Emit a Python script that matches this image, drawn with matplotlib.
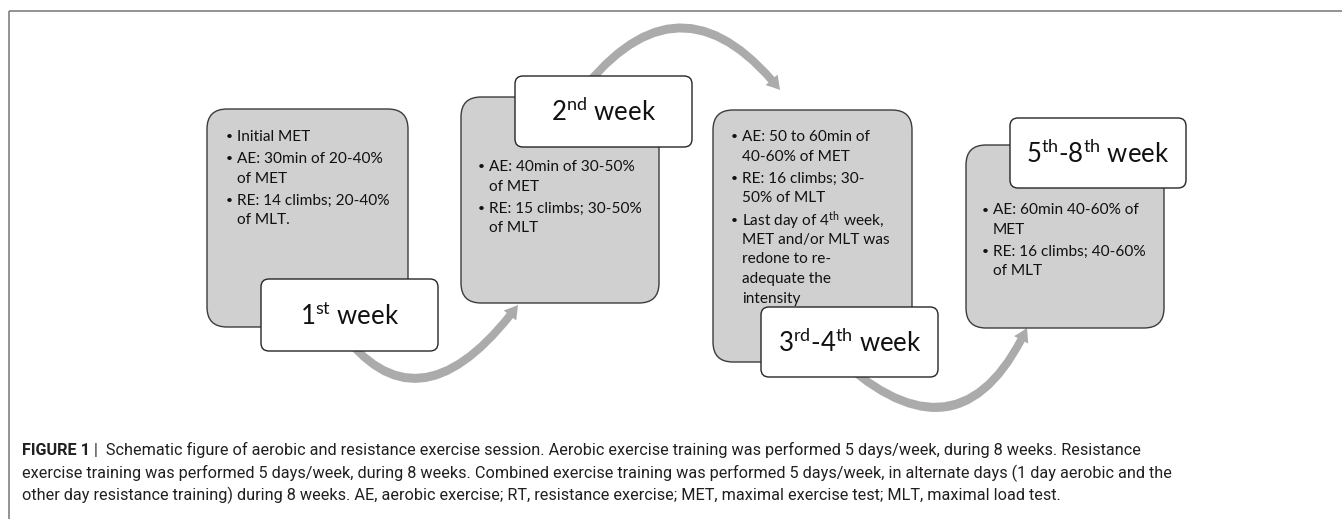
import matplotlib
matplotlib.use("Agg")
import matplotlib.pyplot as plt
from matplotlib.patches import FancyBboxPatch, FancyArrowPatch, ArrowStyle
from matplotlib.path import Path
from matplotlib import font_manager

# ---------------- content ----------------
week_labels = [
    r"$\mathrm{1}^{\mathrm{st}}$ week",
    r"$\mathrm{2}^{\mathrm{nd}}$ week",
    r"$\mathrm{3}^{\mathrm{rd}}$-$\mathrm{4}^{\mathrm{th}}$ week",
    r"$\mathrm{5}^{\mathrm{th}}$-$\mathrm{8}^{\mathrm{th}}$ week",
]
items_week1 = [["Initial MET"], ["AE: 30min of 20-40%", "of MET"], ["RE: 14 climbs; 20-40%", "of MLT."]]
items_week2 = [["AE: 40min of 30-50%", "of MET"], ["RE: 15 climbs; 30-50%", "of MLT"]]
items_week34 = [["AE: 50 to 60min of", "40-60% of MET"], ["RE: 16 climbs; 30-", "50% of MLT"],
                [r"Last day of $\mathrm{4}^{\mathrm{th}}$ week,", "MET and/or MLT was", "redone to re-",
                 "adequate the", "intensity"]]
items_week58 = [["AE: 60min 40-60% of", "MET"], ["RE: 16 climbs; 40-60%", "of MLT"]]
box_items = [items_week1, items_week2, items_week34, items_week58]

caption_bold = "FIGURE 1"
caption_lines = [
    " |  Schematic figure of aerobic and resistance exercise session. Aerobic exercise training was performed 5 days/week, during 8 weeks. Resistance",
    "exercise training was performed 5 days/week, during 8 weeks. Combined exercise training was performed 5 days/week, in alternate days (1 day aerobic and the",
    "other day resistance training) during 8 weeks. AE, aerobic exercise; RT, resistance exercise; MET, maximal exercise test; MLT, maximal load test.",
]

# ---------------- layout (pixels) ----------------
W, H = 1342, 519
gray_boxes = [(207, 109, 408, 327), (461, 97, 659, 303), (713, 110, 912, 362), (966, 145, 1164, 328)]
label_boxes = [(261, 279, 438, 351), (515, 76, 692, 147), (761, 307, 938, 377), (1010, 118, 1186, 188)]
text_x = [237, 489, 742, 993]
text_y0 = [137, 167, 137, 210]
line_step, item_gap = 19.6, 2.4
arrows = [((340, 330), (419, 438), (518, 305)),
          ((575, 100), (677, -39), (780, 90)),
          ((830, 350), (958, 475), (1027, 328))]

names = {f.name for f in font_manager.fontManager.ttflist}
box_font = "Lato" if "Lato" in names else "DejaVu Sans"
cap_font = "Liberation Sans Narrow" if "Liberation Sans Narrow" in names else "Roboto"

plt.rcParams["mathtext.fontset"] = "custom"
plt.rcParams["mathtext.rm"] = box_font
plt.rcParams["mathtext.it"] = box_font

fig = plt.figure(figsize=(W / 100, H / 100), dpi=100)
ax = fig.add_axes([0, 0, 1, 1])
ax.set_xlim(0, W)
ax.set_ylim(H, 0)
ax.axis("off")
renderer = fig.canvas.get_renderer()


def text_width(s, **kw):
    t = ax.text(0, 0, s, **kw)
    w = t.get_window_extent(renderer).width
    t.remove()
    return w


# font sizes fitted to measured widths in the reference
body_fs = 12 * 145 / text_width("AE: 30min of 20-40%", fontsize=12, family=box_font)
label_fs = 18 * 105 / text_width(week_labels[1], fontsize=18, family=box_font)
cap_fs = 10 * (1172 - 22) / text_width(caption_lines[1], fontsize=10, family=cap_font)

# frame lines
ax.plot([9, 9], [H, 11], color="#808080", lw=1.2, solid_capstyle="butt")
ax.plot([9, W], [11, 11], color="#808080", lw=1.2, solid_capstyle="butt")

# arrows (drawn beneath boxes)
style = ArrowStyle.Simple(head_length=0.95, head_width=1.15, tail_width=0.58)
for p0, c, p2 in arrows:
    path = Path([p0, c, p2], [Path.MOVETO, Path.CURVE3, Path.CURVE3])
    ax.add_patch(FancyArrowPatch(path=path, arrowstyle=style, mutation_scale=10,
                                 color="#ababab", lw=0, zorder=1))

# gray boxes with bullet text
for (x0, y0, x1, y1), tx, ty, items in zip(gray_boxes, text_x, text_y0, box_items):
    ax.add_patch(FancyBboxPatch((x0, y0), x1 - x0, y1 - y0,
                                boxstyle="round,pad=0,rounding_size=20",
                                fc="#d0d0d0", ec="#3c3c3c", lw=1.0, zorder=2))
    y = ty
    for item in items:
        ax.text(tx - 11, y, "\u2022", fontsize=body_fs * 0.8, family=box_font,
                ha="left", va="center", color="#111111", zorder=3)
        for line in item:
            ax.text(tx, y, line, fontsize=body_fs, family=box_font,
                    ha="left", va="center", color="#111111", zorder=3)
            y += line_step
        y += item_gap

# white label boxes
for (x0, y0, x1, y1), lab in zip(label_boxes, week_labels):
    ax.add_patch(FancyBboxPatch((x0, y0), x1 - x0, y1 - y0,
                                boxstyle="round,pad=0,rounding_size=8",
                                fc="white", ec="#262626", lw=1.0, zorder=4))
    ax.text((x0 + x1) / 2, (y0 + y1) / 2 + 1, lab, fontsize=label_fs, family=box_font,
            ha="center", va="center", color="#111111", zorder=5)

# caption
cap_color = "#231f20"
baselines = [455, 478, 500]
tb = ax.text(22, baselines[0], caption_bold, fontsize=cap_fs, family=cap_font,
             weight="bold", ha="left", va="baseline", color=cap_color)
bw = tb.get_window_extent(renderer).width
ax.text(22 + bw, baselines[0], caption_lines[0], fontsize=cap_fs, family=cap_font,
        ha="left", va="baseline", color=cap_color)
for line, yb in zip(caption_lines[1:], baselines[1:]):
    ax.text(22, yb, line, fontsize=cap_fs, family=cap_font,
            ha="left", va="baseline", color=cap_color)

fig.savefig("out.png", dpi=100)
